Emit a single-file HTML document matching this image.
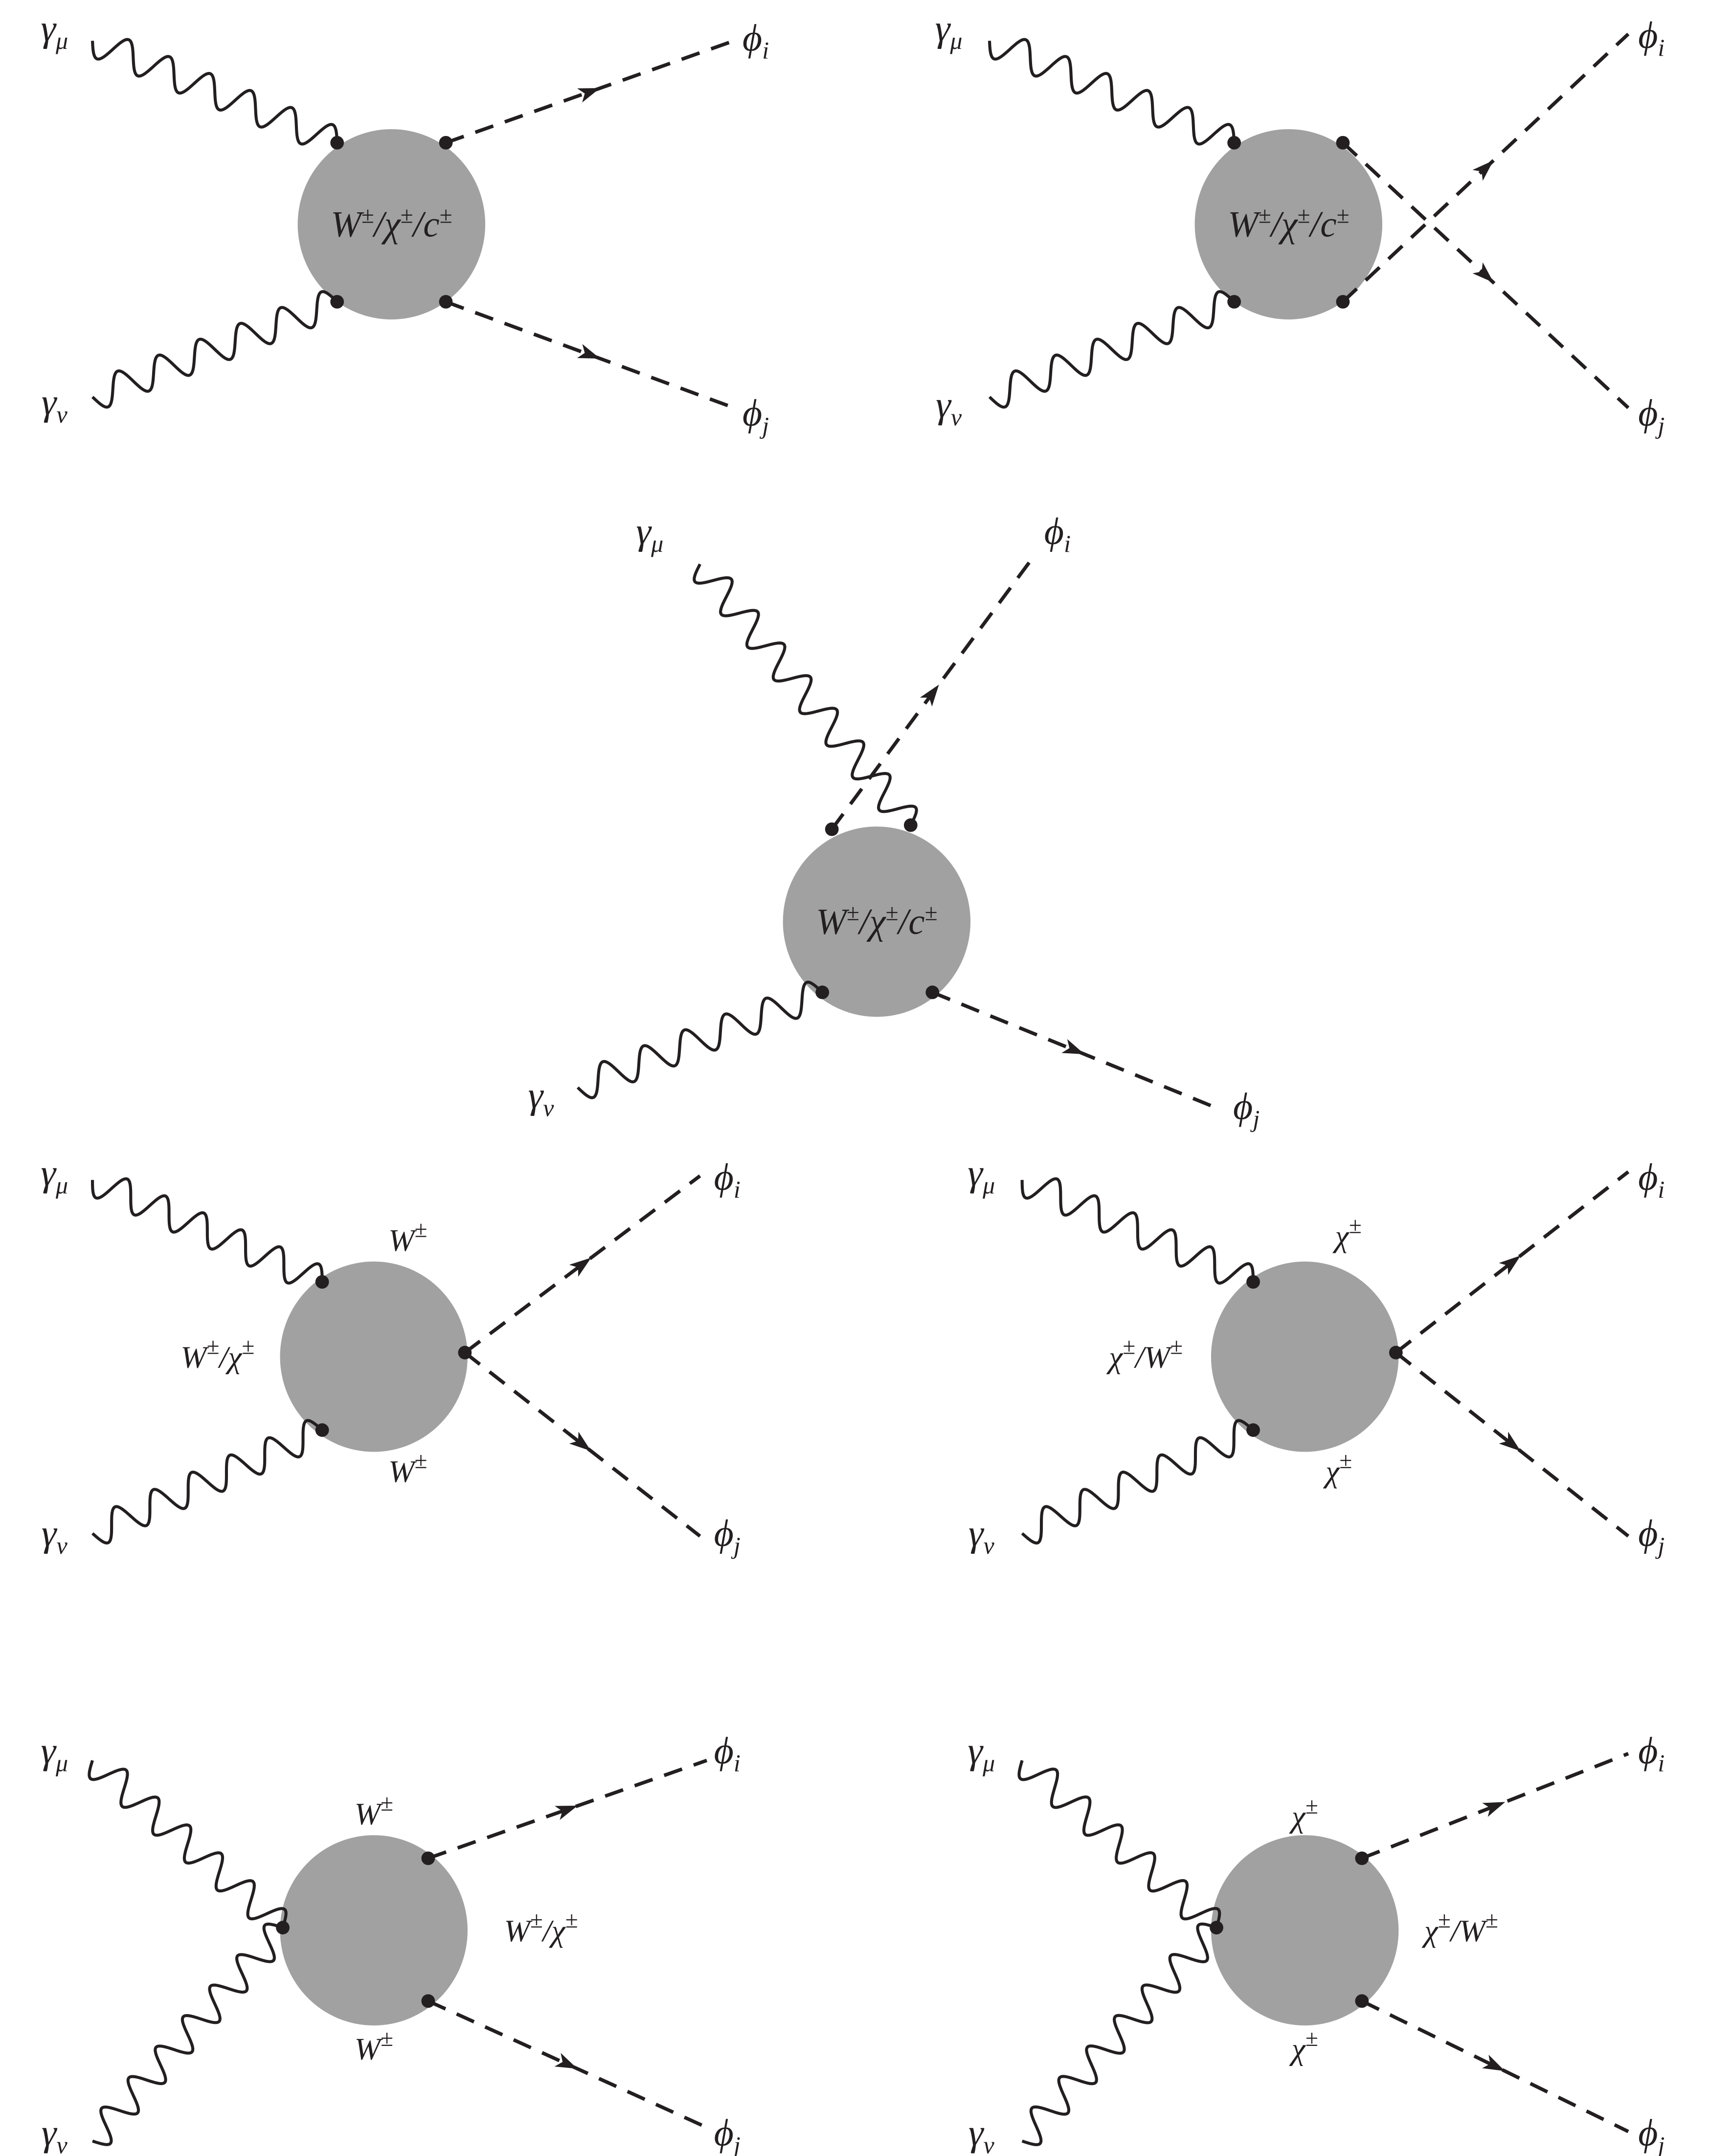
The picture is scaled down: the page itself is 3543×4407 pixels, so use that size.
<!DOCTYPE html>
<html><head><meta charset="utf-8"><style>
html,body{margin:0;padding:0;background:#fff}
svg{display:block}
text{font-family:"Liberation Serif","DejaVu Serif",serif;font-style:italic;fill:#231f20}
</style></head><body>
<svg id="s" width="3543" height="4407" viewBox="0 0 1275 1586" xmlns="http://www.w3.org/2000/svg">
<g id="g"></g>
</svg>
<script>
var g=document.getElementById('g'),NS='http://www.w3.org/2000/svg';
function el(t,a,txt){var e=document.createElementNS(NS,t);for(var k in a)e.setAttribute(k,a[k]);if(txt)e.innerHTML=txt;g.appendChild(e);return e;}
function wave(x1,y1,x2,y2){var dx=x2-x1,dy=y2-y1,L=Math.hypot(dx,dy),ux=dx/L,uy=dy/L,nx=-uy,ny=ux;
 var n=Math.max(2,Math.round(L/31)),A=11,d='M'+x1+' '+y1,N=n*40;
 for(var i=1;i<=N;i++){var t=i/N,s=Math.sin(t*n*2*Math.PI)*A;d+=' L'+(x1+dx*t+nx*s).toFixed(2)+' '+(y1+dy*t+ny*s).toFixed(2);}
 el('path',{d:d,fill:'none',stroke:'#231f20','stroke-width':2.2});}
function dash(x1,y1,x2,y2,ax,ay){el('line',{x1:x1,y1:y1,x2:x2,y2:y2,stroke:'#231f20','stroke-width':2.6,'stroke-dasharray':'14 9'});
 var dx=x2-x1,dy=y2-y1,L=Math.hypot(dx,dy),ux=dx/L,uy=dy/L,nx=-uy,ny=ux,s=16;
 if(ax===undefined){ax=(x1+x2)/2;ay=(y1+y2)/2;}
 var p=[[ax+ux*s/2,ay+uy*s/2],[ax-ux*s/2+nx*5.5,ay-uy*s/2+ny*5.5],[ax-ux*s/4,ay-uy*s/4],[ax-ux*s/2-nx*5.5,ay-uy*s/2-ny*5.5]];
 el('polygon',{points:p.map(function(q){return q[0].toFixed(1)+','+q[1].toFixed(1)}).join(' '),fill:'#231f20'});}
function circ(x,y){el('ellipse',{cx:x,cy:y,rx:69,ry:70,fill:'#a0a1a0'});}
function dot(x,y){el('circle',{cx:x,cy:y,r:5,fill:'#231f20'});}
function lab(x,y,t,fs){el('text',{x:x,y:y,'font-size':fs||28,'text-anchor':'middle'},t);}
var gm='γ<tspan font-size="18" dy="6">μ</tspan>',gn='γ<tspan font-size="18" dy="6">ν</tspan>',
pi='ϕ<tspan font-size="18" dy="6">i</tspan>',pj='ϕ<tspan font-size="18" dy="6">j</tspan>',
pm='<tspan font-size="17" dy="-10">±</tspan><tspan dy="10">',
W='W'+pm+'</tspan>',X='χ'+pm+'</tspan>';
var WXC='W'+pm+'/χ</tspan>'+pm+'/c</tspan>'+pm+'</tspan>';
// D1
circ(288,165);wave(68,30,248,105);wave(68,292,248,222);dash(328,105,540,30);dash(328,222,540,300);
[[248,105],[328,105],[248,222],[328,222]].forEach(function(p){dot(p[0],p[1])});
lab(40,30,gm);lab(40,305,gn);lab(556,37,pi);lab(556,313,pj);lab(288,174,WXC,27);
// D2
circ(948,165);wave(728,30,908,105);wave(728,292,908,222);dash(988,105,1198,300);dash(988,222,1198,25);
[[908,105],[988,105],[908,222],[988,222]].forEach(function(p){dot(p[0],p[1])});
lab(698,30,gm);lab(698,307,gn);lab(1215,35,pi);lab(1215,313,pj);lab(948,174,WXC,27);
// D3
circ(645,678);wave(515,415,670,607);wave(425,800,605,730);dash(612,610,760,410);dash(686,730,895,815);
[[612,610],[670,607],[605,730],[686,730]].forEach(function(p){dot(p[0],p[1])});
lab(478,400,gm);lab(778,400,pi);lab(398,815,gn);lab(917,823,pj);lab(645,687,WXC,27);
// D4
circ(275,998);wave(68,868,237,943);wave(68,1128,237,1052);dash(342,995,515,865);dash(342,995,515,1130);
[[237,943],[237,1052],[342,995]].forEach(function(p){dot(p[0],p[1])});
lab(40,872,gm);lab(40,1137,gn);lab(535,875,pi);lab(535,1137,pj);
lab(300,920,W,23);lab(160,1006,'W'+pm+'/χ</tspan>'+pm+'</tspan>',23);lab(300,1090,W,23);
// D5
circ(960,998);wave(752,868,922,943);wave(752,1128,922,1052);dash(1027,995,1198,862);dash(1027,995,1198,1130);
[[922,943],[922,1052],[1027,995]].forEach(function(p){dot(p[0],p[1])});
lab(722,872,gm);lab(722,1137,gn);lab(1215,875,pi);lab(1215,1137,pj);
lab(992,917,X,23);lab(843,1006,'χ'+pm+'/W</tspan>'+pm+'</tspan>',23);lab(985,1090,X,23);
// D6
circ(275,1420);wave(68,1295,208,1418);wave(68,1575,208,1418);dash(315,1367,520,1295);dash(315,1472,520,1565);
[[208,1418],[315,1367],[315,1472]].forEach(function(p){dot(p[0],p[1])});
lab(40,1297,gm);lab(40,1578,gn);lab(535,1297,pi);lab(535,1578,pj);
lab(275,1342,W,23);lab(398,1428,'W'+pm+'/χ</tspan>'+pm+'</tspan>',23);lab(275,1515,W,23);
// D7
circ(960,1420);wave(752,1295,895,1418);wave(752,1575,895,1418);dash(1002,1367,1198,1290);dash(1002,1472,1198,1568);
[[895,1418],[1002,1367],[1002,1472]].forEach(function(p){dot(p[0],p[1])});
lab(722,1297,gm);lab(722,1578,gn);lab(1215,1297,pi);lab(1215,1578,pj);
lab(960,1344,X,23);lab(1075,1428,'χ'+pm+'/W</tspan>'+pm+'</tspan>',23);lab(960,1515,X,23);
</script>
</body></html>
